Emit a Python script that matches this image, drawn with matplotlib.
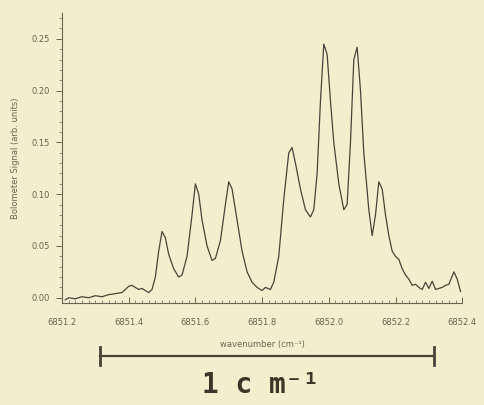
"""Bolometer spectrum near 6852 cm^-1 with a 1 cm^-1 scale bar."""

import matplotlib

matplotlib.use("Agg")

import matplotlib.pyplot as plt
from matplotlib.ticker import MultipleLocator, FormatStrFormatter

# values
wavenumber = [
    6851.21, 6851.22, 6851.24, 6851.26, 6851.28, 6851.30, 6851.32, 6851.34,
    6851.36, 6851.38, 6851.40, 6851.41, 6851.43, 6851.44, 6851.46, 6851.47,
    6851.48, 6851.49, 6851.50, 6851.51, 6851.52, 6851.535, 6851.55, 6851.56,
    6851.575, 6851.59, 6851.60, 6851.61, 6851.62, 6851.635, 6851.65, 6851.66,
    6851.675, 6851.69, 6851.70, 6851.71, 6851.725, 6851.74, 6851.755, 6851.77,
    6851.785, 6851.80, 6851.81, 6851.825, 6851.835, 6851.85, 6851.865, 6851.88,
    6851.89, 6851.90, 6851.915, 6851.93, 6851.945, 6851.955, 6851.965, 6851.975,
    6851.985, 6851.995, 6852.005, 6852.015, 6852.03, 6852.045, 6852.055, 6852.065,
    6852.075, 6852.085, 6852.095, 6852.105, 6852.12, 6852.13, 6852.14, 6852.15,
    6852.16, 6852.17, 6852.18, 6852.19, 6852.20, 6852.21, 6852.22, 6852.23,
    6852.24, 6852.25, 6852.26, 6852.27, 6852.28, 6852.29, 6852.30, 6852.31,
    6852.32, 6852.34, 6852.35, 6852.36, 6852.375, 6852.385, 6852.395,
]
signal = [
    -0.002, 0.000, -0.001, 0.001, 0.000, 0.002, 0.001, 0.003,
    0.004, 0.005, 0.011, 0.012, 0.008, 0.009, 0.005, 0.008,
    0.020, 0.045, 0.064, 0.058, 0.042, 0.028, 0.020, 0.022,
    0.040, 0.080, 0.110, 0.100, 0.075, 0.050, 0.036, 0.038,
    0.055, 0.090, 0.112, 0.105, 0.075, 0.045, 0.025, 0.015,
    0.010, 0.007, 0.010, 0.008, 0.015, 0.040, 0.095, 0.140,
    0.145, 0.130, 0.105, 0.085, 0.078, 0.085, 0.120, 0.190,
    0.245, 0.235, 0.190, 0.150, 0.110, 0.085, 0.090, 0.150,
    0.230, 0.242, 0.200, 0.140, 0.085, 0.060, 0.080, 0.112,
    0.105, 0.080, 0.060, 0.045, 0.040, 0.037, 0.028, 0.022,
    0.018, 0.012, 0.013, 0.010, 0.008, 0.015, 0.009, 0.016,
    0.008, 0.010, 0.012, 0.013, 0.025, 0.018, 0.006,
]

# scale bar: 1 cm^-1 drawn under the axis
scale_start = 6851.315
scale_length = 1.0
scale_label = "1 c m\u207b\u00b9"

paper = "#f3eecd"
ink = "#4a4438"
faint = "#6a6452"

fig = plt.figure(figsize=(4.84, 4.05), dpi=100, facecolor=paper)
ax = fig.add_axes([0.128, 0.252, 0.827, 0.716], facecolor=paper)

ax.plot(wavenumber, signal, color=ink, linewidth=0.9)

ax.set_xlim(6851.2, 6852.4)
ax.set_ylim(-0.005, 0.275)
ax.xaxis.set_major_locator(MultipleLocator(0.2))
ax.xaxis.set_minor_locator(MultipleLocator(0.02))
ax.yaxis.set_major_locator(MultipleLocator(0.05))
ax.yaxis.set_minor_locator(MultipleLocator(0.01))
ax.xaxis.set_major_formatter(FormatStrFormatter("%.1f"))
ax.yaxis.set_major_formatter(FormatStrFormatter("%.2f"))

for side in ("top", "right"):
    ax.spines[side].set_visible(False)
for side in ("left", "bottom"):
    ax.spines[side].set_color(faint)
    ax.spines[side].set_linewidth(0.8)

ax.tick_params(which="major", length=4, width=0.7, color=faint,
               labelsize=6, labelcolor=faint, pad=5)
ax.tick_params(which="minor", length=2, width=0.5, color=faint)
ax.tick_params(axis="x", which="both", direction="in", pad=11)

ax.set_xlabel("wavenumber (cm\u207b\u00b9)", fontsize=6, color=faint, labelpad=9)
ax.set_ylabel("Bolometer Signal (arb. units)", fontsize=6, color=faint, labelpad=8)

# scale bar in data x, axes-fraction y
bar_trans = ax.get_xaxis_transform()
bar_y = -0.183
ax.plot([scale_start, scale_start + scale_length], [bar_y, bar_y],
        transform=bar_trans, color=ink, linewidth=1.6, clip_on=False)
for end in (scale_start, scale_start + scale_length):
    ax.plot([end, end], [bar_y - 0.03, bar_y + 0.03], transform=bar_trans,
            color=ink, linewidth=2.0, clip_on=False)
ax.text(scale_start + scale_length / 2 - 0.02, bar_y - 0.1, scale_label,
        transform=bar_trans, ha="center", va="center", fontsize=20,
        fontweight="bold", family="DejaVu Sans Mono", color="#3d3628",
        clip_on=False)

fig.savefig("out.png", dpi=100, facecolor=paper)
plt.close(fig)
